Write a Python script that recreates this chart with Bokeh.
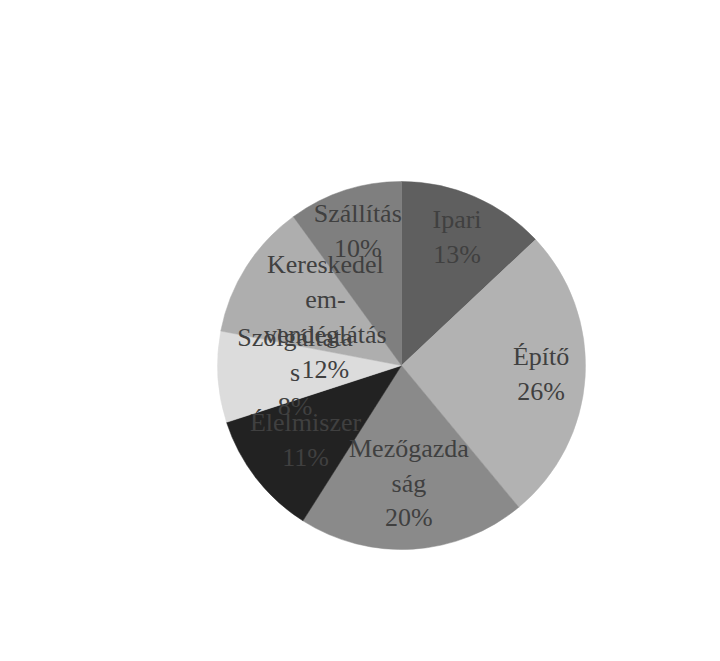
import numpy as np
from bokeh.plotting import figure
from bokeh.models import Range1d, ColumnDataSource
from bokeh.core.properties import value
from bokeh.embed import file_html
from bokeh.resources import INLINE

# ---- data ----
categories = ["Ipari", "Építő", "Mezőgazdaság", "Élelmiszer", "Szolgáltatás",
              "Kereskedelem-vendéglátás", "Szállítás"]
shares = [13, 26, 20, 11, 8, 12, 10]
label_texts = ["Ipari\n13%", "Építő\n26%", "Mezőgazda\nság\n20%", "Élelmiszer\n11%",
               "Szolgáltata\ns\n8%", "Kereskedel\nem-\nvendéglátás\n12%", "Szállítás\n10%"]
colors = ["#5f5f5f", "#b2b2b2", "#8a8a8a", "#222222", "#dcdcdc", "#aeaeae", "#7f7f7f"]

# ---- layout ----
W, H = 720, 661
cx, cy = 401, H - 365
R = 184
label_r = [0.76, 0.76, 0.64, 0.66, 0.58, 0.49, 0.77]

vals = np.array(shares, dtype=float)
frac = vals / vals.sum()
cum_end = np.cumsum(frac)
cum_start = cum_end - frac
start_angle = np.pi / 2 - 2 * np.pi * cum_start
end_angle = np.pi / 2 - 2 * np.pi * cum_end
mid = (start_angle + end_angle) / 2
lx = cx + np.array(label_r) * R * np.cos(mid)
ly = cy + np.array(label_r) * R * np.sin(mid)

p = figure(width=W, height=H, output_backend="svg", toolbar_location=None,
           x_range=Range1d(0, W), y_range=Range1d(0, H), min_border=0)
p.axis.visible = False
p.grid.visible = False
p.outline_line_color = None

src = ColumnDataSource(dict(cat=categories, start=start_angle, end=end_angle,
                            color=colors, lx=lx, ly=ly, txt=label_texts))
p.wedge(x=cx, y=cy, radius=R, start_angle="start", end_angle="end",
        direction="clock", fill_color="color", line_color="color", line_width=0.5,
        source=src)
p.text(x="lx", y="ly", text="txt", source=src, text_align="center",
       text_baseline="middle", text_font=value("Liberation Serif"),
       text_font_size="26px", text_color="#404040")

open("out.html", "w").write(file_html(p, INLINE))
